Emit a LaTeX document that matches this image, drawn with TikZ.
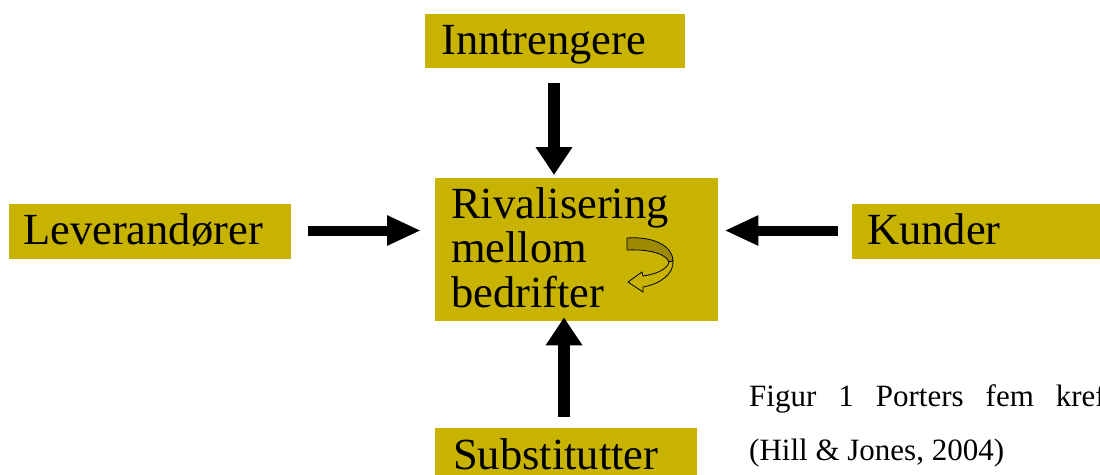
\documentclass[tikz,border=0pt]{standalone}
\usepackage{fontspec}
\setmainfont{Liberation Serif}
\usetikzlibrary{arrows.meta}

\definecolor{forcefill}{HTML}{C8B400}
\definecolor{ribbondark}{HTML}{9E8A00}

\tikzset{
  forcebox/.style={fill=forcefill, draw=none, inner xsep=#1, inner ysep=0pt,
    anchor=north west, align=left,
    font=\fontsize{44.5pt}{44.5pt}\selectfont},
  forcebox/.default=16pt,
  vforce/.style={line width=12pt, -{Triangle[width=35pt,length=28pt]}},
  hforce/.style={line width=10pt, -{Triangle[width=28pt,length=34pt]}},
  caption/.style={anchor=base west, inner sep=0pt,
    font=\fontsize{31pt}{31pt}\selectfont},
}

\begin{document}
\begin{tikzpicture}[x=1pt, y=-1pt]
  \useasboundingbox (0,0) rectangle (1100,474);
  \clip (0,0) rectangle (1100,474);

  % the five forces
  \node[forcebox=16pt, text width=228pt, text height=40pt, text depth=14pt]
    (intr) at (425,14) {Inntrengere};
  \node[forcebox=14pt, text width=254pt, text height=40pt, text depth=15pt]
    (lev) at (9,204) {Leverandører};
  \node[forcebox=15pt, text width=240pt, text height=40pt, text depth=15pt]
    (kund) at (852,204) {Kunder};
  \node[forcebox=18pt, text width=226pt, text height=41pt, text depth=15pt]
    (subst) at (435,428) {Substitutter};
  \node[forcebox=16pt, text width=251pt, text height=40pt, text depth=103pt]
    (riv) at (435,178) {Rivalisering\\mellom\\bedrifter};

  % rivalry ribbon arrow inside the centre box
  \fill[ribbondark, draw=black, line width=0.8pt]
    (627,238) .. controls (655,236) and (673,247) .. (673,261)
    -- (669,262) .. controls (666,254) and (650,249) .. (627,250) -- cycle;
  \fill[forcefill, draw=black, line width=0.8pt]
    (673,261) .. controls (674,274) and (660,284) .. (643,287)
    -- (643,292) -- (628,282) -- (642,272) -- (643,276)
    .. controls (658,274) and (668,268) .. (669,262) -- cycle;

  % arrows pointing at the rivalry box
  \coordinate (fromIntr) at (554,83);
  \coordinate (fromSubst) at (564,417);
  \coordinate (fromLev) at (308,230.5);
  \coordinate (fromKund) at (838,230.5);
  \draw[vforce, shorten >=3pt] (fromIntr) -- (fromIntr |- riv.north);
  \draw[vforce, shorten >=-4pt] (fromSubst) -- (fromSubst |- riv.south);
  \draw[hforce, shorten >=14pt] (fromLev) -- (fromLev -| riv.west);
  \draw[hforce, shorten >=6pt] (fromKund) -- (fromKund -| riv.east);

  % figure caption
  \node[caption] (cap1) at (749,406)
    {Figur\hspace{22pt}1\hspace{22pt}Porters\hspace{22pt}fem\hspace{22pt}krefter};
  \node[caption] (cap2) at (749,460) {(Hill \& Jones, 2004)};
\end{tikzpicture}
\end{document}
